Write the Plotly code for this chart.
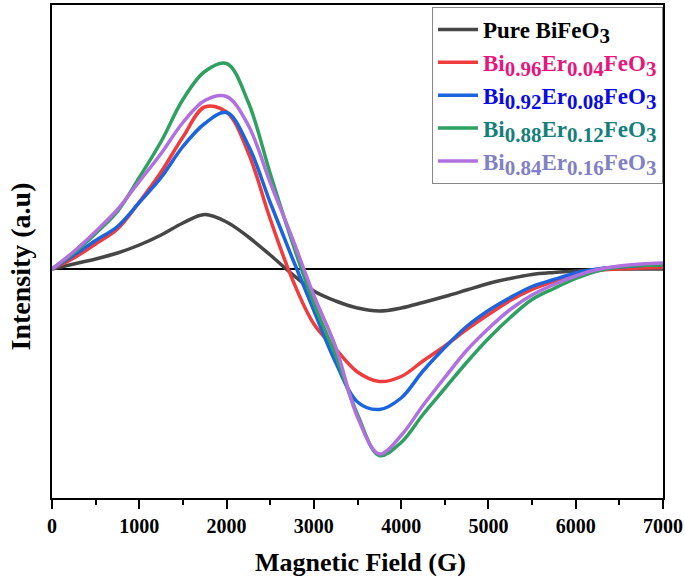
import plotly.graph_objects as go

# Magnetic field (G) sample positions
field = [0, 250, 500, 750, 1000, 1250, 1500, 1750, 2000, 2250, 2500, 2750, 3000, 3250,
         3500, 3750, 4000, 4250, 4500, 4750, 5000, 5250, 5500, 5750, 6000, 6250, 6500,
         6750, 7000]

pure = [0, 5, 10, 16, 24, 34, 46, 54.5, 47, 32, 14, -5, -22, -32,
        -39, -42, -39, -33.5, -27.5, -21, -14.5, -9.5, -5.5, -3.5, -2, -0.5, 0,
        0, 0]

er04 = [0, 11, 25, 40, 67, 97, 132, 162, 157, 116, 50, -9.5, -55, -80,
        -103, -112.5, -107.5, -92, -77, -60.5, -45.5, -31.5, -20.5, -12.5, -5.5, -1.5, 0,
        1, 1.5]

er08 = [0, 14, 28.5, 42.5, 66.5, 91.5, 122.5, 145.5, 156.5, 123.5, 66.5, 11.5, -41.5, -93.5,
        -133, -140.5, -129, -102, -78.5, -57.5, -41.5, -28.5, -17.5, -10.5, -4, 0, 2,
        3.5, 4.5]

er12 = [0, 16, 35.5, 57.5, 91.5, 127.5, 169.5, 197.5, 205.5, 166.5, 95.5, 27.5, -34.5, -86.5,
        -145.5, -186.5, -173.5, -145.5, -119.5, -93.5, -69.5, -48.5, -30.5, -19.5, -9.5, -2, 2,
        3.5, 4]

er16 = [0, 17.5, 37.5, 59.5, 87.5, 115.5, 146.5, 168.5, 172.5, 143.5, 86.5, 31.5, -26.5, -78,
        -148, -185, -166.5, -136.5, -108.5, -81.5, -59.5, -40.5, -26, -15.5, -7, -0.5, 3,
        5, 6]

# legend label pieces: (main, sub) pairs
SUBSZ = 21
def label(parts):
    out = ""
    for main, sub in parts:
        out += main
        if sub:
            out += f"<sub><span style='font-size:{SUBSZ}px'>{sub}</span></sub>"
    return out

series = [
    (label([("Pure BiFeO", "3")]), pure, "rgb(70,70,70)", "#000000"),
    (label([("Bi", "0.96"), ("Er", "0.04"), ("FeO", "3")]), er04, "rgb(240,60,60)", "#E8167C"),
    (label([("Bi", "0.92"), ("Er", "0.08"), ("FeO", "3")]), er08, "rgb(28,100,222)", "#0A0AE6"),
    (label([("Bi", "0.88"), ("Er", "0.12"), ("FeO", "3")]), er12, "rgb(46,160,96)", "#14807A"),
    (label([("Bi", "0.84"), ("Er", "0.16"), ("FeO", "3")]), er16, "rgb(176,112,222)", "#8080C4"),
]

fig = go.Figure()
for name, vals, lc, tc in series:
    fig.add_trace(go.Scatter(
        x=field, y=vals, mode="lines",
        line=dict(color=lc, width=3.5, shape="spline", smoothing=1.0),
        name=f"<span style='color:{tc}'>{name}</span>",
    ))

font_family = "Liberation Serif"
fig.update_layout(
    width=685, height=576,
    margin=dict(l=52, r=22, t=5, b=78, autoexpand=False),
    paper_bgcolor="white", plot_bgcolor="white",
    showlegend=True,
    legend=dict(
        x=1, xanchor="right", y=0.996, yanchor="top",
        bordercolor="#888888", borderwidth=1, bgcolor="white",
        font=dict(family=font_family, size=23, color="black", weight="bold"),
        itemwidth=40, tracegroupgap=0,
    ),
    xaxis=dict(
        range=[0, 7000], dtick=1000, tick0=0, automargin=False,
        showline=True, linecolor="black", linewidth=2, mirror=True,
        ticks="outside", ticklen=9, tickwidth=2, tickcolor="black",
        minor=dict(dtick=500, ticks="outside", ticklen=5, tickwidth=2, tickcolor="black"),
        showgrid=False, zeroline=False,
        tickfont=dict(family=font_family, size=20, color="black", weight="bold"),
    ),
    yaxis=dict(
        range=[-229, 264], automargin=False,
        showline=True, linecolor="black", linewidth=2, mirror=True,
        showticklabels=False, ticks="", showgrid=False,
        zeroline=True, zerolinecolor="black", zerolinewidth=2,
    ),
    annotations=[
        dict(text="<b>Magnetic Field (G)</b>", xref="paper", yref="paper",
             x=0.505, y=-0.13, xanchor="center", yanchor="middle", showarrow=False,
             font=dict(family=font_family, size=26, color="black")),
        dict(text="<b>Intensity (a.u)</b>", xref="paper", yref="paper",
             x=-0.052, y=0.47, xanchor="center", yanchor="middle", showarrow=False,
             textangle=-90,
             font=dict(family=font_family, size=28, color="black")),
    ],
)

fig.write_html("out.html", config={"displayModeBar": False},
               post_script="document.body.style.margin='0';")
